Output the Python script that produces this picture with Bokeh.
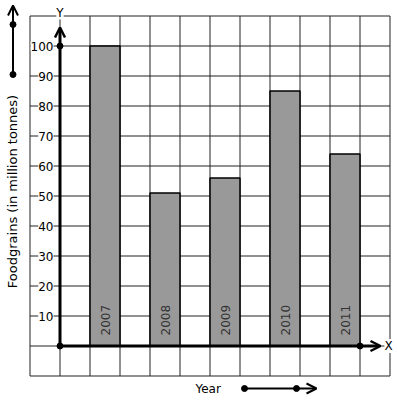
import math
from bokeh.plotting import figure
from bokeh.models import Range1d, Arrow, OpenHead
from bokeh.core.properties import value
from bokeh.embed import file_html
from bokeh.resources import INLINE

# ---- data ----
years = ["2007", "2008", "2009", "2010", "2011"]
production = [100, 51, 56, 85, 64]          # million tonnes
bar_slots = [1, 3, 5, 7, 9]                  # grid columns holding the bars
y_ticks = [10, 20, 30, 40, 50, 60, 70, 80, 90, 100]
y_tick_labels = [str(t) for t in y_ticks]
grid_x = list(range(-1, 12))
grid_y = list(range(-10, 111, 10))

# ---- layout helpers (page pixels -> data units) ----
W, H = 397, 401
PAGE = 0                  # figure's page offset
OX, OY = 59.5, 345.5      # page position of origin
SX, SY = 30.0, 3.0        # pixels per data unit


def dx(px):
    return (px - OX) / SX


def dy(py):
    return (OY - py) / SY


p = figure(width=W, height=H, output_backend="svg", toolbar_location=None,
           x_range=Range1d(dx(PAGE), dx(PAGE + W)), y_range=Range1d(dy(PAGE + H), dy(PAGE)),
           x_axis_location=None, y_axis_location=None, min_border=0)
p.grid.visible = False
p.outline_line_color = None
p.background_fill_color = "white"
p.border_fill_color = "white"

FONT = value("DejaVu Sans")

# grid
p.segment(x0=grid_x, y0=grid_y[0], x1=grid_x, y1=grid_y[-1], line_color="#222222", line_width=1)
p.segment(x0=grid_x[0], y0=grid_y, x1=grid_x[-1], y1=grid_y, line_color="#222222", line_width=1)

# bars
centers = [s + 0.5 for s in bar_slots]
p.vbar(x=centers, width=1, top=production, bottom=0,
       fill_color="#999999", line_color="black", line_width=1.5)

# year labels inside bars
p.text(x=centers, y=dy(335), text=years, angle=math.pi / 2,
       text_align="left", text_baseline="middle", text_color="#333333",
       text_font=FONT, text_font_size="12px")

# y tick labels
p.text(x=dx(53), y=y_ticks, text=y_tick_labels, text_align="right",
       text_baseline="middle", text_color="black", text_font=FONT,
       text_font_size="12px", background_fill_color="white")

# axes with arrows
p.add_layout(Arrow(end=OpenHead(size=10, line_width=2.5, line_color="black"),
                   x_start=0, y_start=0, x_end=dx(380), y_end=0,
                   line_width=3, line_color="black"))
p.add_layout(Arrow(end=OpenHead(size=10, line_width=2.5, line_color="black"),
                   x_start=0, y_start=0, x_end=0, y_end=dy(27),
                   line_width=3, line_color="black"))
p.scatter(x=[0, 0, bar_slots[-1] + 1], y=[0, y_ticks[-1], 0], size=6,
          fill_color="black", line_color="black")

# axis letters
p.text(x=0, y=dy(12), text=["Y"], text_align="center", text_baseline="middle",
       text_font=FONT, text_font_size="12px", background_fill_color="white")
p.text(x=dx(388), y=0, text=["X"], text_align="center", text_baseline="middle",
       text_font=FONT, text_font_size="12px", background_fill_color="white")

# axis titles
p.text(x=dx(12), y=dy(191), text=["Foodgrains (in million tonnes)"], angle=math.pi / 2,
       text_align="center", text_baseline="middle", text_font=FONT,
       text_font_size="13px", text_color="black")
p.text(x=dx(195), y=dy(388), text=["Year"], text_align="left", text_baseline="middle",
       text_font=FONT, text_font_size="12px", text_color="black")

# decorative direction arrows
p.add_layout(Arrow(end=OpenHead(size=10, line_width=2, line_color="black"),
                   x_start=dx(12.5), y_start=dy(74), x_end=dx(12.5), y_end=dy(5),
                   line_width=2, line_color="black"))
p.scatter(x=[dx(12.5), dx(12.5)], y=[dy(24), dy(74)], size=6, fill_color="black", line_color="black")
p.add_layout(Arrow(end=OpenHead(size=10, line_width=2, line_color="black"),
                   x_start=dx(244), y_start=dy(388), x_end=dx(316), y_end=dy(388),
                   line_width=2, line_color="black"))
p.scatter(x=[dx(244), dx(296)], y=[dy(388), dy(388)], size=6, fill_color="black", line_color="black")

open("out.html", "w").write(file_html(p, INLINE))
